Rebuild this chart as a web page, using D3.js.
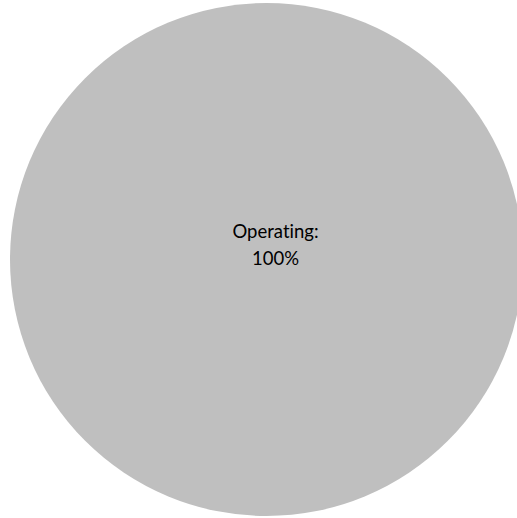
<!DOCTYPE html>
<html>
<head>
<meta charset="utf-8">
<script src="https://cdn.jsdelivr.net/npm/d3@7"></script>
<style>
  html, body { margin: 0; padding: 0; background: #fff; }
  svg { display: block; }
  text.label { font-variant-ligatures: none; font-feature-settings: "liga" 0; }
</style>
</head>
<body>
<svg id="chart" width="517" height="518"></svg>
<script>
// Status shares (percent)
const categories = ["Operating"];
const values = [100];
const colors = ["#BFBFBF"];

const width = 517, height = 518;
const cx = 266.5, cy = 259.5, radius = 256.5;

const svg = d3.select("#chart");
const g = svg.append("g").attr("transform", `translate(${cx},${cy})`);

const pie = d3.pie().sort(null).value(d => d.value);
const arc = d3.arc().innerRadius(0).outerRadius(radius);

const data = categories.map((c, i) => ({ name: c, value: values[i], color: colors[i] }));
const arcs = pie(data);

g.selectAll("path.slice")
  .data(arcs)
  .join("path")
  .attr("class", "slice")
  .attr("d", arc)
  .attr("fill", d => d.data.color);

// Data label for each slice: name on the first line, percentage below
const total = d3.sum(values);
const labelOffset = [9, 0];
const label = g.selectAll("text.label")
  .data(arcs)
  .join("text")
  .attr("class", "label")
  .attr("text-anchor", "middle")
  .attr("font-family", "Lato, 'Open Sans', sans-serif")
  .attr("font-size", 18.5)
  .attr("fill", "#000")
  .attr("transform", `translate(${labelOffset[0]},${labelOffset[1]})`);

label.append("tspan")
  .attr("x", 0)
  .attr("y", -22)
  .text(d => d.data.name + ":");
label.append("tspan")
  .attr("x", 0)
  .attr("y", 5)
  .text(d => d3.format(".0%")(d.data.value / total));
</script>
</body>
</html>
